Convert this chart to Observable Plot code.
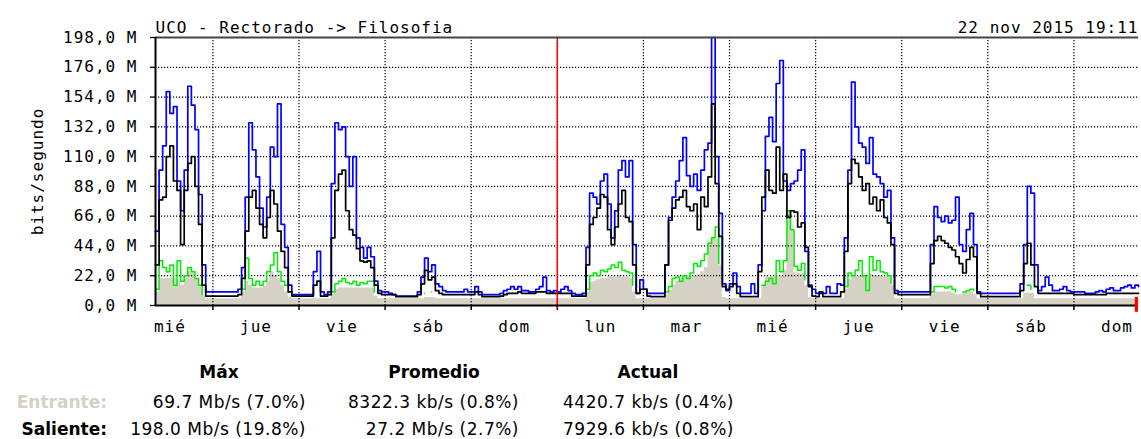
<!DOCTYPE html>
<html><head><meta charset="utf-8">
<script src="https://cdn.jsdelivr.net/npm/d3@7"></script>
<script src="https://cdn.jsdelivr.net/npm/@observablehq/plot@0.6"></script>
<style>
body{margin:0;background:#fff;}
#wrap{position:relative;width:1141px;height:439px;overflow:hidden;background:#fff;}
#under,#chart{position:absolute;left:0;top:0;}
#under svg,#chart svg{font-family:"DejaVu Sans Mono",monospace;font-size:16px;letter-spacing:1px;overflow:visible;}
#under svg{background:#fff;}
#chart svg{background:transparent !important;}
.lg{position:absolute;font-family:"DejaVu Sans",sans-serif;font-size:17px;line-height:17px;white-space:nowrap;color:#000;}
.b{font-weight:bold;}
.v{letter-spacing:0.5px;}
</style></head><body>
<div id="wrap"><div id="under"></div><div id="chart"></div></div>
<script>
const startHour = 8;               // first sample: Wed 11 Nov, 08:00 (hours since Wed 00:00)
const endHour = 282;
const weekStart = 120;             // red line: Monday 00:00
const dayLabels = ["mié","jue","vie","sáb","dom","lun","mar","mié","jue","vie","sáb","dom"];
const yTicks = [0,22,44,66,88,110,132,154,176,198];
const title = "UCO - Rectorado -> Filosofia";
const stamp = "22 nov 2015 19:11";
const yLabel = "bits/segundo";

// hourly samples, Mbit/s
const outPeak = [
 55,100,118,158,142,147,92,70,100,162,148,130,82,30,10,10,
 10,10,10,10,10,10,10,12,28,80,135,115,95,72,58,80,117,110,149,60,43,15,8,8,
 8,8,8,8,25,40,10,8,10,90,135,130,132,110,88,110,50,43,35,43,36,18,11,10,
 10,9,8,7,7,7,7,7,7,10,21,35,25,30,16,14,11,10,10,10,10,10,12,10,
 10,14,10,8,8,8,8,8,9,11,12,14,12,14,11,11,10,10,12,14,21,11,10,11,
 10,12,14,11,9,8,8,9,43,83,80,75,92,97,75,50,70,100,107,95,107,45,9,19,
 12,9,9,9,9,9,30,65,80,92,107,124,96,88,97,85,100,115,120,198,110,68,16,11,
 16,24,14,9,9,9,16,9,30,70,125,139,121,164,181,92,85,90,92,100,115,40,15,12,
 9,9,9,14,9,9,16,15,50,100,165,132,120,117,105,124,97,95,90,80,85,50,11,10,
 10,10,10,10,10,10,10,10,45,73,65,62,66,61,63,80,45,40,56,68,45,10,9,9,
 9,9,9,9,9,9,9,9,9,16,45,88,83,30,11,14,21,15,11,11,12,14,11,10,
 10,10,10,9,9,9,10,11,10,12,13,11,11,13,14,15,13,15,14
];
const outAvg = [
 30,78,80,110,118,92,85,45,85,105,110,88,60,15,7,7,
 7,7,7,7,7,7,7,8,20,55,80,85,72,60,50,65,85,75,55,40,28,10,7,7,
 7,7,7,7,15,18,7,7,8,50,85,97,100,70,56,52,42,33,32,33,28,15,9,8,
 8,8,8,6.5,6.5,6.5,6.5,6.5,6.5,8,16,26,19,21,11,9,8,8,8,8,8,8,8,8,
 8,10,8,6.5,6.5,6.5,6.5,6.5,7,8,9,9,9,10,9,9,9,9,10,10,10,9,9,9,
 9,9,9,9,7,7,7,7,30,60,65,72,82,80,56,45,58,75,85,65,62,30,9,12,
 12,7,6.5,6.5,6.5,6.5,30,63,72,78,80,85,73,70,75,56,80,73,95,149,90,51,14,12,
 14,16,9,6.5,6.5,6.5,6.5,6.5,25,80,100,85,83,117,85,97,65,70,69,58,61,43,14,7,
 6.5,10,6.5,6.5,6.5,6.5,6.5,10,40,90,108,105,95,85,90,75,80,70,78,65,61,45,9,8,
 8,8,8,8,8,8,8,8,31,48,51,48,46,43,41,36,31,24,34,43,36,9,6.5,6.5,
 6.5,6.5,6.5,6.5,6.5,6.5,6.5,6.5,6.5,11,31,46,30,14,9,9,9,9,9,9,9,9,9,9,
 8,8,8,8,8,8,8,8,8,9,9,9,9,9,9,9,9,9,9
];
const inAvg = [
 10,20,20,20,20,20,18,15,20,25,24,20,14,7,5,5,
 5,5,5,5,5,5,5,5,10,18,15,13,13,13,14,18,25,22,20,15,10,6,5,5,
 5,5,5,5,5,5,5,5,5,8,12,13,13,13,13,13,13,13,13,13,13,7,5,5,
 5,5,5,5,5,5,5,5,5,5,5,6,6,6,5,5,5,5,5,5,5,5,5,5,
 5,5,5,5,5,5,5,5,5,5,5,5,5,5,5,5,5,5,5,5,5,5,5,5,
 5,5,5,5,5,5,5,5,10,17,18,19,20,20,21,21,21,22,21,21,20,10,5,5,
 5,5,5,5,5,5,8,11,15,18,20,21,21,21,22,23,25,28,46,50,49,30,6,5,
 5,5,5,5,5,5,5,5,5,14,21,21,21,21,22,26,69.7,55,24,24,24,15,6,5,
 5,5,5,5,5,5,5,5,12,19,21,21,22,22,22,23,22,22,22,21,21,15,5,5,
 5,5,5,5,5,5,5,5,8,10,10,10,10,10,9,8,8,9,10,10,8,5,5,5,
 5,5,5,5,5,5,5,5,5,5,9,9,9,5,5,5,5,5,5,5,5,5,5,5,
 5,5,5,5,5,5,5,5,5,5,5,5,5,5,5,5,5,5,5
];
const n = null;
const inPeak = [
 12,33,28,25,30,15,33,18,22,28,25,20,15,8,n,n,
 n,n,n,n,n,n,n,n,12,35,20,15,18,15,18,25,30,39,25,18,15,10,n,n,
 n,n,n,n,n,n,n,n,n,10,16,18,20,17,16,18,15,17,16,18,18,10,n,n,
 n,n,n,n,n,n,n,n,n,n,n,9,n,10,n,n,n,n,n,n,n,n,n,n,
 n,n,n,n,n,n,n,n,n,n,n,n,n,n,n,n,n,n,n,n,n,n,n,n,
 n,n,n,n,n,n,n,n,12,22,24,22,26,25,27,30,28,32,26,25,24,15,n,n,
 n,n,n,n,n,n,10,14,20,21,18,22,20,24,31,29,33,38,46,50,58,31,n,n,
 n,n,n,n,n,n,n,n,n,15,18,20,16,33,25,33,70,56,29,26,31,19,n,n,
 n,n,n,n,n,n,n,n,14,24,22,26,33,22,11,36,26,33,25,24,22,16,n,n,
 n,n,n,n,n,n,n,n,10,14,14,14,13,14,12,10,n,10,11,12,11,n,n,n,
 n,n,n,n,n,n,n,n,n,n,n,15,12,n,n,n,n,n,n,n,n,n,n,n,
 n,n,n,n,n,n,n,n,n,n,n,n,n,n,n,n,n,n,n
];

const legendHeads = ["Máx","Promedio","Actual"];
const legendRows = ["Entrante:","Saliente:"];
const maxVals = ["69.7 Mb/s (7.0%)","198.0 Mb/s (19.8%)"];
const avgVals = ["8322.3 kb/s (0.8%)","27.2 Mb/s (2.7%)"];
const curVals = ["4420.7 kb/s (0.4%)","7929.6 kb/s (0.8%)"];

const beige = "#d5d1c5";
const rows = outPeak.map((v, i) => ({h: startHour + i, outPeak: v, outAvg: outAvg[i], inPeak: inPeak[i], inAvg: inAvg[i]}));
const midnights = dayLabels.slice(1).map((_, i) => 24 * (i + 1));
const noons = dayLabels.map((_, i) => 12 + 24 * i);
const fmt = d => d.toFixed(1).replace(".", ",") + " M";

const frame = {
  width: 1141, height: 345,
  marginLeft: 155, marginRight: 3, marginTop: 37, marginBottom: 40,
  x: {domain: [startHour, endHour], label: null},
  y: {domain: [0, 198], label: null}
};

// bottom layer: incoming area, dotted grid, tick marks
const under = Plot.plot({
  ...frame,
  marks: [
    Plot.areaY(rows, {x: "h", y: "inAvg", fill: beige, curve: "step-after"}),
    Plot.gridY({ticks: yTicks.slice(1, -1), stroke: "#000", strokeOpacity: 1, strokeWidth: 1.2, strokeDasharray: "1.2 1.8"}),
    Plot.gridX({ticks: midnights, stroke: "#000", strokeOpacity: 1, strokeWidth: 1.2, strokeDasharray: "1.2 1.8"}),
    Plot.axisX({ticks: midnights, tickSize: 5, tickFormat: () => "", label: null, strokeWidth: 1.5}),
    Plot.axisY({ticks: yTicks, tickSize: 5, tickFormat: () => "", label: null, strokeWidth: 1.3})
  ]
});
document.getElementById("under").appendChild(under);

// top layer: lines, frame, labels
const plot = Plot.plot({
  ...frame,
  style: {background: "transparent"},
  marks: [
    Plot.line(rows, {x: "h", y: "inPeak", stroke: "#00ee00", strokeWidth: 1.5, curve: "step-after"}),
    Plot.line(rows, {x: "h", y: "outPeak", stroke: "#0000ff", strokeWidth: 1.7, curve: "step-after"}),
    Plot.line(rows, {x: "h", y: "outAvg", stroke: "#000", strokeWidth: 1.7, curve: "step-after"}),
    Plot.ruleX([weekStart], {y1: -2.5, y2: 198, stroke: "#ff0000", strokeWidth: 1.5}),
    Plot.ruleY([198], {stroke: "#444", strokeWidth: 2}),
    Plot.ruleY([0], {stroke: "#000", strokeWidth: 2}),
    Plot.ruleX([startHour], {stroke: "#000", strokeWidth: 2}),
    Plot.rect([endHour], {x1: d => d - 0.9, x2: d => d, y1: -5, y2: 6, fill: "#ff0000"}),
    Plot.axisY({ticks: yTicks, tickFormat: fmt, tickSize: 0, tickPadding: 18, fontSize: 16,
      label: yLabel, labelAnchor: "center", labelOffset: 124, labelArrow: "none"}),
    Plot.axisX({ticks: noons, tickSize: 0, tickPadding: 15, fontSize: 16, label: null,
      tickFormat: d => dayLabels[Math.round((d - 12) / 24)]}),
    Plot.text([title], {frameAnchor: "top-left", textAnchor: "start", lineAnchor: "bottom", dy: -5, fontSize: 16}),
    Plot.text([stamp], {frameAnchor: "top-right", textAnchor: "end", lineAnchor: "bottom", dy: -5, fontSize: 16})
  ]
});
document.getElementById("chart").appendChild(plot);

// legend table
const wrap = document.getElementById("wrap");
function cell(text, cls, css) {
  const d = document.createElement("div");
  d.className = "lg " + cls;
  d.textContent = text;
  Object.assign(d.style, css);
  wrap.appendChild(d);
}
const headCenters = [219, 434, 648];
legendHeads.forEach((t, i) => cell(t, "b", {left: (headCenters[i] - 100) + "px", width: "200px", textAlign: "center", top: "364px"}));
const rowTops = [394, 421];
legendRows.forEach((t, i) => {
  cell(t, "b", {left: "0px", width: "107px", textAlign: "right", top: rowTops[i] + "px", color: i === 0 ? beige : "#000"});
  cell(maxVals[i], "v", {left: "106px", width: "200px", textAlign: "right", top: rowTops[i] + "px"});
  cell(avgVals[i], "v", {left: "319px", width: "200px", textAlign: "right", top: rowTops[i] + "px"});
  cell(curVals[i], "v", {left: "563px", textAlign: "left", top: rowTops[i] + "px"});
});
</script>
</body></html>
